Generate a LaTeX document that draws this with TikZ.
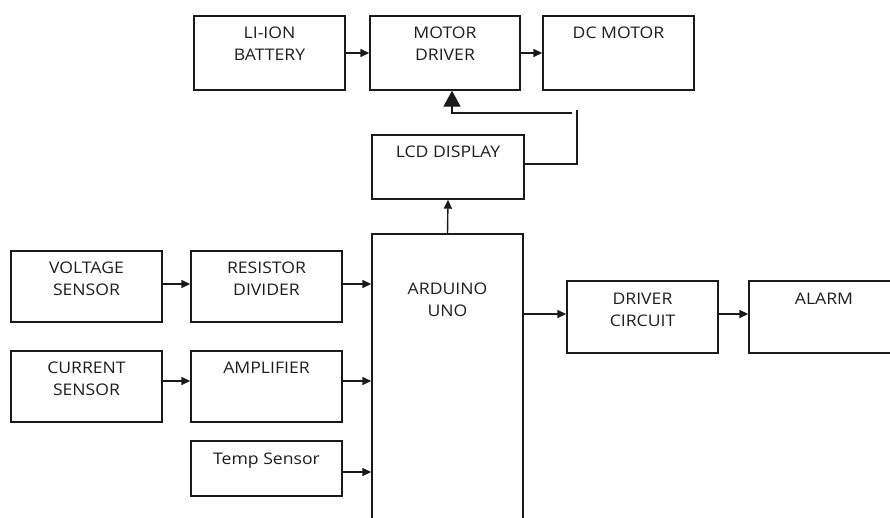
\documentclass[tikz,border=0pt]{standalone}
\usepackage{fontspec}
\setmainfont{Open Sans}[FakeStretch=1.1]
\usetikzlibrary{arrows.meta}
\definecolor{linec}{HTML}{1A1A1A}
\definecolor{textc}{HTML}{1E1E1E}
\begin{document}
\begin{tikzpicture}[x=1pt,y=-1pt,
 box/.style={draw=linec, line width=1.4pt, minimum width=151pt, inner sep=0pt},
 lbl/.style={anchor=north, inner sep=0pt, align=center, text=textc, font=\fontsize{16}{22}\selectfont},
 arr/.style={draw=linec, line width=1.4pt, -{Triangle[length=9pt,width=8pt]}},
 ln/.style={draw=linec, line width=1.4pt},
 bigarr/.style={draw=linec, line width=1.4pt, -{Triangle[length=16pt,width=17pt]}}]
\useasboundingbox (0,0) rectangle (890,517);
\clip (0,0) rectangle (890,517);
% boxes
\node[box, minimum height=74pt] (bat) at (269.5,53) {};
\node[box, minimum width=150pt, minimum height=74pt] (mdrv) at (445,53) {};
\node[box, minimum height=74pt] (dcm) at (618.5,53) {};
\node[box, minimum width=152pt, minimum height=64pt] (lcd) at (448,167) {};
\node[box, minimum height=296pt] (ard) at (447.5,382) {};
\node[box, minimum height=71pt] (vs) at (86.5,286.5) {};
\node[box, minimum height=71pt] (rd) at (266.5,286.5) {};
\node[box, minimum height=71pt] (cs) at (86.5,386.5) {};
\node[box, minimum height=71pt] (amp) at (266.5,386.5) {};
\node[box, minimum height=55pt] (temp) at (266.5,468.5) {};
\node[box, minimum height=72pt] (drv) at (642.5,317) {};
\node[box, minimum width=150pt, minimum height=72pt] (alarm) at (824,317) {};
% labels
\node[lbl] (tbat) at ([yshift=-11.8pt]bat.north) {LI-ION\\BATTERY};
\node[lbl] (tmdrv) at ([yshift=-11.8pt]mdrv.north) {MOTOR\\DRIVER};
\node[lbl] (tdcm) at ([yshift=-11.8pt]dcm.north) {DC MOTOR};
\node[lbl] (tlcd) at ([yshift=-11.8pt]lcd.north) {LCD DISPLAY};
\node[lbl] (tard) at ([yshift=-49pt]ard.north) {ARDUINO\\UNO};
\node[lbl] (tvs) at ([yshift=-11.8pt]vs.north) {VOLTAGE\\SENSOR};
\node[lbl] (trd) at ([yshift=-11.8pt]rd.north) {RESISTOR\\DIVIDER};
\node[lbl] (tcs) at ([yshift=-11.8pt]cs.north) {CURRENT\\SENSOR};
\node[lbl] (tamp) at ([yshift=-11.8pt]amp.north) {AMPLIFIER};
\node[lbl] (ttemp) at ([yshift=-12.5pt]temp.north) {Temp Sensor};
\node[lbl] (tdrv) at ([yshift=-12.5pt]drv.north) {DRIVER\\CIRCUIT};
\node[lbl] (talarm) at ([yshift=-12.5pt]alarm.north) {ALARM};
% connector end points
\coordinate (vsr) at ([yshift=2.5pt]vs.east);
\coordinate (rdl) at ([yshift=2.5pt]rd.west);
\coordinate (rdr) at ([yshift=2.5pt]rd.east);
\coordinate (csr) at ([yshift=5.5pt]cs.east);
\coordinate (ampl) at ([yshift=5.5pt]amp.west);
\coordinate (ampr) at ([yshift=5.5pt]amp.east);
\coordinate (tempr) at ([yshift=-3.5pt]temp.east);
\coordinate (drvl) at ([yshift=3pt]drv.west);
\coordinate (drvr) at ([yshift=3pt]drv.east);
\coordinate (alarml) at ([yshift=3pt]alarm.west);
% connectors
\draw[arr] (bat.east) -- (mdrv.west);
\draw[arr] (mdrv.east) -- (dcm.west);
\draw[arr] (vsr) -- (rdl);
\draw[arr] (rdr) -- (ard.west |- rdr);
\draw[arr] (csr) -- (ampl);
\draw[arr] (ampr) -- (ard.west |- ampr);
\draw[arr] (tempr) -- (ard.west |- tempr);
\draw[arr] (ard.east |- drvl) -- (drvl);
\draw[arr] (drvr) -- (alarml);
\draw[arr] (ard.north) -- (lcd.south);
\coordinate (k1) at (572,113);
\coordinate (k2) at (452,113);
\coordinate (k3) at (577,164);
\coordinate (k4) at (577,110);
\draw[ln] (lcd.east |- k3) -- (k3) -- (k4);
\draw[bigarr] (k1) -- (k2) -- (k2 |- mdrv.south);
\end{tikzpicture}
\end{document}
